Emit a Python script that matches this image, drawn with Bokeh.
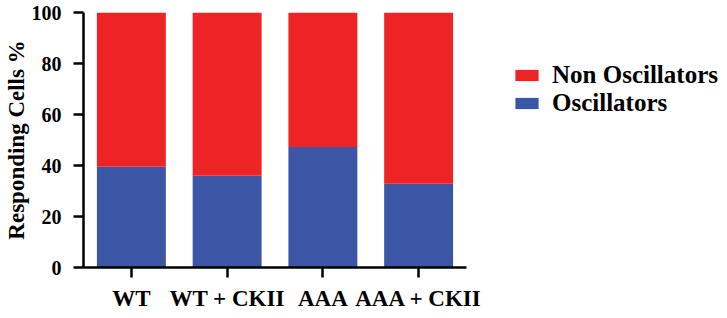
from bokeh.plotting import figure
from bokeh.layouts import row
from bokeh.models import ColumnDataSource, FactorRange, Range1d, Legend, LegendItem, FixedTicker
from bokeh.embed import file_html
from bokeh.resources import INLINE

categories = ["WT", "WT + CKII", "AAA", "AAA + CKII"]
oscillators = [39.5, 36.0, 47.3, 32.8]
non_oscillators = [100 - v for v in oscillators]
y_ticks = [0, 20, 40, 60, 80, 100]
series_labels = ["Non Oscillators", "Oscillators"]

RED = "#EE2325"
BLUE = "#3A56A5"
FONT = "Liberation Serif"

source = ColumnDataSource(dict(cat=categories, osc=oscillators, non=non_oscillators))

p = figure(x_range=FactorRange(*categories, range_padding=0), y_range=Range1d(0, 100),
           width=498, height=313, output_backend="svg", toolbar_location=None,
           min_border_left=77, min_border_right=32, min_border_top=12, min_border_bottom=45)

r = p.vbar_stack(["osc", "non"], x="cat", width=0.72, color=[BLUE, RED], line_color=None, source=source)

p.outline_line_color = None
p.grid.grid_line_color = None

for ax in (p.xaxis[0], p.yaxis[0]):
    ax.axis_line_width = 2.5
    ax.axis_line_color = "black"
    ax.major_tick_line_width = 2.5
    ax.major_tick_line_color = "black"
    ax.major_tick_out = 10
    ax.major_tick_in = 0
    ax.minor_tick_line_color = None
    ax.major_label_text_font = FONT
    ax.major_label_text_font_style = "bold"
    ax.major_label_text_color = "black"

p.yaxis[0].ticker = FixedTicker(ticks=y_ticks)
p.yaxis[0].major_label_text_font_size = "20px"
p.yaxis[0].major_label_standoff = 12
p.yaxis[0].axis_label = "Responding Cells %"
p.yaxis[0].axis_label_text_font = FONT
p.yaxis[0].axis_label_text_font_style = "bold"
p.yaxis[0].axis_label_text_font_size = "23px"
p.yaxis[0].axis_label_text_color = "black"
p.yaxis[0].axis_label_standoff = 0

p.xaxis[0].major_label_text_font_size = "23px"
p.xaxis[0].major_label_standoff = 8

# legend panel
lp = figure(width=229, height=313, output_backend="svg", toolbar_location=None,
            x_range=Range1d(0, 1), y_range=Range1d(0, 1),
            min_border_left=0, min_border_right=0, min_border_top=0, min_border_bottom=0)
lp.axis.visible = False
lp.grid.visible = False
lp.outline_line_color = None
proxy = ColumnDataSource(dict(x=[0.5], top=[0.0]))
r_non = lp.vbar(x="x", top="top", width=0.0, color=RED, line_color=None, source=proxy)
r_osc = lp.vbar(x="x", top="top", width=0.0, color=BLUE, line_color=None, source=proxy)

legend = Legend(items=[LegendItem(label=series_labels[0], renderers=[r_non]),
                       LegendItem(label=series_labels[1], renderers=[r_osc])],
                location=(14, 150))
legend.label_text_font = FONT
legend.label_text_font_style = "bold"
legend.label_text_font_size = "25px"
legend.label_text_color = "black"
legend.glyph_width = 29
legend.glyph_height = 14
legend.label_standoff = 11
legend.spacing = 0
legend.padding = 0
legend.margin = 0
legend.border_line_color = None
legend.background_fill_alpha = 0
lp.add_layout(legend, "center")

layout = row(p, lp)
open("out.html", "w").write(file_html(layout, INLINE))
